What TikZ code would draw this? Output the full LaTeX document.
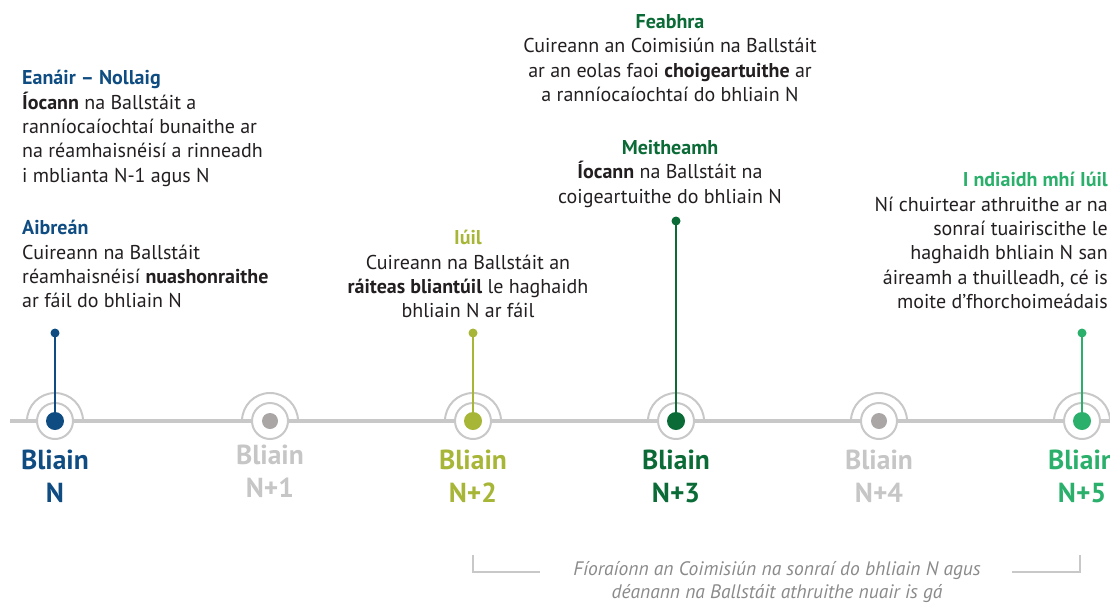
\documentclass[tikz,border=0pt]{standalone}
\usepackage{fontspec}
\setmainfont{PT Sans}
\definecolor{blueN}{HTML}{0F4C81}
\definecolor{oliveN}{HTML}{A7B637}
\definecolor{dkgreenN}{HTML}{0B6B37}
\definecolor{greenN}{HTML}{2BB06C}
\definecolor{grayLab}{HTML}{C6C6C6}
\definecolor{grayDot}{HTML}{AAA6A6}
\definecolor{ringGray}{HTML}{C8C8C8}
\definecolor{bodyC}{HTML}{231F20}
\definecolor{footC}{HTML}{8A8A8A}
\tikzset{
  tl/.style={draw=ringGray, line width=3.5pt},
  ring/.style={draw=ringGray, line width=2pt},
  bigdot/.style={circle, inner sep=0pt, minimum size=18pt},
  smalldot/.style={circle, inner sep=0pt, minimum size=9pt},
  stem/.style={line width=1.6pt},
  year/.style={font=\bfseries\fontsize{27.5}{33}\selectfont, align=center, inner sep=0pt},
  body/.style={font=\fontsize{20}{24.4}\selectfont, text=bodyC, inner sep=0pt},
  foot/.style={font=\itshape\fontsize{19.5}{22.5}\selectfont, text=footC, inner sep=0pt, align=center},
  brk/.style={draw=ringGray, line width=1.2pt}
}
\begin{document}
\begin{tikzpicture}[x=1pt,y=-1pt]
\useasboundingbox (0,0) rectangle (1110,603);
% timeline
\coordinate (tlS) at (10,421);
\coordinate (tlE) at (1115,421);
\draw[tl] (tlS) -- (tlE);
% year centres
\foreach \n/\x in {0/55,1/270,2/473,3/676,4/879,5/1082}{
  \coordinate (c\n) at (\x,421);
  \draw[ring] ([xshift=28pt]c\n) arc[start angle=0,end angle=180,radius=28pt];
  \draw[ring, fill=white] (c\n) circle[radius=18pt];
}
% stems and dots
\node[smalldot, fill=blueN] (s0) at (55,333) {};
\node[smalldot, fill=oliveN] (s2) at (473,333) {};
\node[smalldot, fill=dkgreenN] (s3) at (676,221) {};
\node[smalldot, fill=greenN] (s5) at (1082,333) {};
\draw[stem, blueN] (s0.center) -- (c0);
\draw[stem, oliveN] (s2.center) -- (c2);
\draw[stem, dkgreenN] (s3.center) -- (c3);
\draw[stem, greenN] (s5.center) -- (c5);
\node[bigdot, fill=blueN] (d0) at (c0) {};
\node[bigdot, fill=grayDot, minimum size=16pt] (d1) at (c1) {};
\node[bigdot, fill=oliveN] (d2) at (c2) {};
\node[bigdot, fill=dkgreenN] (d3) at (c3) {};
\node[bigdot, fill=grayDot, minimum size=16pt] (d4) at (c4) {};
\node[bigdot, fill=greenN] (d5) at (c5) {};
% year labels
\node[year, text=blueN] (l0) at (55,476) {Bliain\\N};
\node[year, text=grayLab] (l1) at (270,471) {Bliain\\N+1};
\node[year, text=oliveN] (l2) at (473,476) {Bliain\\N+2};
\node[year, text=dkgreenN] (l3) at (676,476) {Bliain\\N+3};
\node[year, text=grayLab] (l4) at (879,476) {Bliain\\N+4};
\node[year, text=greenN] (l5) at (1082,476) {Bliain\\N+5};
% text blocks
\node[body, anchor=north west, align=left] (tA) at (22,70) {\textbf{\textcolor{blueN}{Eanáir – Nollaig}}\\\textbf{Íocann} na Ballstáit a\\ranníocaíochtaí bunaithe ar\\na réamhaisnéisí a rinneadh\\i mblianta N-1 agus N};
\node[body, anchor=north west, align=left] (tB) at (22,220) {\textbf{\textcolor{blueN}{Aibreán}}\\Cuireann na Ballstáit\\réamhaisnéisí \textbf{nuashonraithe}\\ar fáil do bhliain N};
\node[body, anchor=north, align=center] (tC) at (670,14) {\textbf{\textcolor{dkgreenN}{Feabhra}}\\Cuireann an Coimisiún na Ballstáit\\ar an eolas faoi \textbf{choigeartuithe} ar\\a ranníocaíochtaí do bhliain N};
\node[body, anchor=north, align=center] (tD) at (670,140) {\textbf{\textcolor{dkgreenN}{Meitheamh}}\\\textbf{Íocann} na Ballstáit na\\coigeartuithe do bhliain N};
\node[body, anchor=north, align=center] (tE) at (468,230) {\textbf{\textcolor{oliveN}{Iúil}}\\Cuireann na Ballstáit an\\\textbf{ráiteas bliantúil} le haghaidh\\bhliain N ar fáil};
\node[body, anchor=north east, align=right] (tF) at (1108,172) {\textbf{\textcolor{greenN}{I ndiaidh mhí Iúil}}\\Ní chuirtear athruithe ar na\\sonraí tuairiscithe le\\haghaidh bhliain N san\\áireamh a thuilleadh, cé is\\moite d’fhorchoimeádais};
% footnote bracket
\node[foot] (ft) at (777,582) {Fíoraíonn an Coimisiún na sonraí do bhliain N agus\\déanann na Ballstáit athruithe nuair is gá};
\coordinate (bL1) at (473,555);
\coordinate (bL2) at (473,572);
\coordinate (bL3) at (540,572);
\coordinate (bR1) at (1012,572);
\coordinate (bR2) at (1080,572);
\coordinate (bR3) at (1080,555);
\draw[brk] (bL1) -- (bL2) -- (bL3);
\draw[brk] (bR1) -- (bR2) -- (bR3);
\end{tikzpicture}
\end{document}
